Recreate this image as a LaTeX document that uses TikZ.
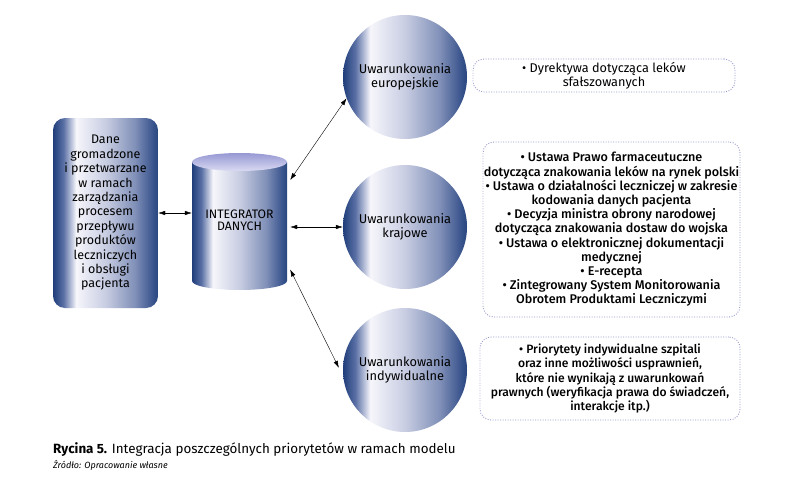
\documentclass[tikz,border=0pt]{standalone}
\usepackage{fontspec}
\setmainfont{Fira Sans}
\newfontfamily\medfont{Fira Sans Medium}
\usetikzlibrary{arrows.meta,calc}
\definecolor{dk}{RGB}{31,61,122}
\definecolor{dkr}{RGB}{40,70,127}
\definecolor{dotc}{RGB}{150,150,205}
\pgfdeclarehorizontalshading{myshade}{100bp}{%
  color(0bp)=(dk); color(25bp)=(dk); color(30bp)=({rgb,255:red,90;green,112;blue,165});
  color(36bp)=({rgb,255:red,246;green,246;blue,251}); color(50bp)=({rgb,255:red,200;green,205;blue,226});
  color(64bp)=({rgb,255:red,128;green,144;blue,184}); color(72bp)=({rgb,255:red,62;green,88;blue,144});
  color(75bp)=(dkr); color(100bp)=(dkr)}
\tikzset{
  lbox/.style={shading=myshade, rounded corners=12pt, minimum width=105pt, minimum height=190pt, inner sep=0pt, align=center, font=\fontsize{12.5}{14.4}\selectfont},
  circ/.style={circle, shading=myshade, minimum size=124pt, inner sep=0pt, align=center, font=\fontsize{12.8}{14}\selectfont},
  dbox/.style={draw=dotc, line width=0.9pt, dash pattern=on 0.9pt off 1.6pt, rounded corners=11pt, inner sep=0pt, align=center},
  arr/.style={{Latex[length=7pt,width=4.5pt]}-{Latex[length=7pt,width=4.5pt]}, line width=0.4pt},
  midtxt/.style={font=\medfont\fontsize{12.6}{14.2}\selectfont},
}
\begin{document}
\begin{tikzpicture}[x=1pt,y=-1pt]
\useasboundingbox (0,0) rectangle (800,487);
% left box
\node[lbox] (dane) at (105.5,213) {Dane\\gromadzone\\i przetwarzane\\w ramach\\zarządzania\\procesem\\przepływu\\produktów\\leczniczych\\i obsługi\\pacjenta};
% cylinder
\shade[shading=myshade] (192,162) -- (192,281) arc[start angle=180,end angle=360,x radius=47.5pt,y radius=9pt] -- (287,162) -- cycle;
\shade[top color={rgb,255:red,150;green,152;blue,212}, bottom color={rgb,255:red,218;green,218;blue,242}] (239.5,162) ellipse [x radius=47.5pt, y radius=9pt];
\node[minimum width=95pt, minimum height=137pt, inner sep=0pt, align=center, font=\fontsize{12.3}{14.5}\selectfont] (cyl) at (239.5,221.5) {\raisebox{-3.5pt}{\begin{tabular}{@{}c@{}}INTEGRATOR\\[-2.2pt]DANYCH\end{tabular}}};
% circles
\node[circ] (eu) at (405,77) {Uwarunkowania\\europejskie};
\node[circ] (kr) at (405,227) {Uwarunkowania\\krajowe};
\node[circ] (ind) at (405,370) {Uwarunkowania\\indywidualne};
% dotted boxes
\node[dbox, minimum width=262pt, minimum height=33pt, font=\fontsize{12.7}{14}\selectfont] (b1) at (604,75.5) {• Dyrektywa dotycząca leków\\sfałszowanych};
\node[dbox, minimum width=257pt, minimum height=175pt, midtxt] (b2) at (611.5,229.5) {• Ustawa Prawo farmaceutuczne\\dotycząca znakowania leków na rynek polski\\• Ustawa o działalności leczniczej w zakresie\\kodowania danych pacjenta\\• Decyzja ministra obrony narodowej\\dotycząca znakowania dostaw do wojska\\• Ustawa o elektronicznej dokumentacji\\medycznej\\• E-recepta\\• Zintegrowany System Monitorowania\\Obrotem Produktami Leczniczymi};
\node[dbox, minimum width=260pt, minimum height=83pt, font=\medfont\fontsize{12.1}{14.3}\selectfont] (b3) at (610,378.5) {• Priorytety indywidualne szpitali\\oraz inne możliwości usprawnień,\\które nie wynikają z uwarunkowań\\prawnych (weryfikacja prawa do świadczeń,\\interakcje itp.)};
% arrows
\draw[arr] (dane.east) -- (dane.east -| cyl.west);
\draw[arr] ([xshift=3pt]kr.west -| cyl.east) -- (kr.west);
\draw[arr] ([xshift=3pt,yshift=41.5pt]cyl.east) -- (eu.200);
\draw[arr] ([xshift=3pt,yshift=-48pt]cyl.east) -- ([xshift=-4pt]ind.178);
% caption
\node[anchor=west, inner sep=0pt, font=\fontsize{13.4}{15}\selectfont] (cap) at (53,450) {\textbf{Rycina 5.} Integracja poszczególnych priorytetów w ramach modelu};
\node[anchor=west, inner sep=0pt, font=\itshape\fontsize{9}{10}\selectfont] (src) at (53,465) {Źródło: Opracowanie własne};
\end{tikzpicture}
\end{document}
